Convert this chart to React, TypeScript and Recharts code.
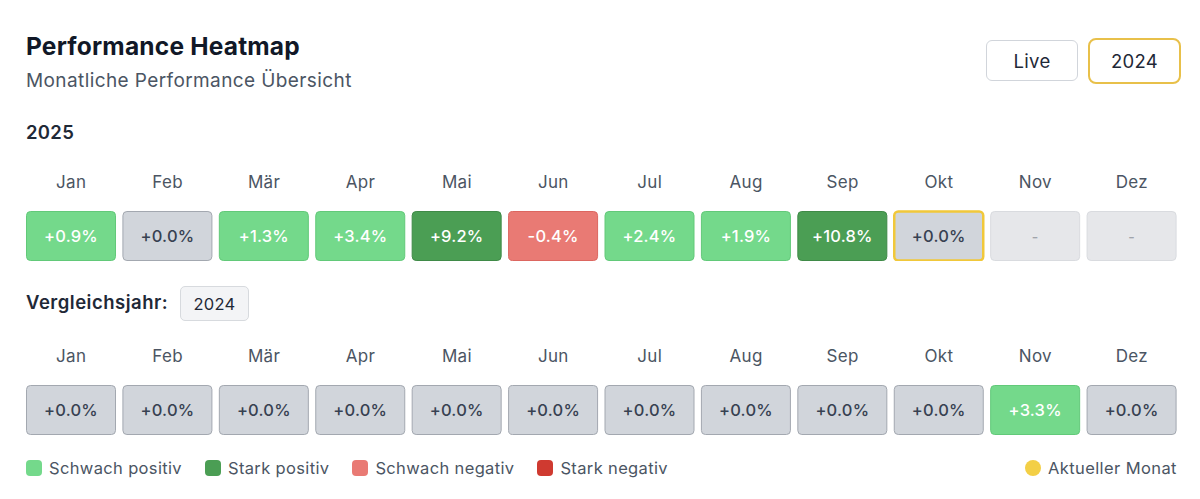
import { Bar, BarChart, XAxis, YAxis } from "recharts";

const months = ["Jan", "Feb", "Mär", "Apr", "Mai", "Jun", "Jul", "Aug", "Sep", "Okt", "Nov", "Dez"];
const perf2025: (number | null)[] = [0.9, 0.0, 1.3, 3.4, 9.2, -0.4, 2.4, 1.9, 10.8, 0.0, null, null];
const perf2024: (number | null)[] = [0.0, 0.0, 0.0, 0.0, 0.0, 0.0, 0.0, 0.0, 0.0, 0.0, 3.3, 0.0];
const currentMonth = "Okt";

const legendItems = [
  { label: "Schwach positiv", color: "#74d98b" },
  { label: "Stark positiv", color: "#4b9e54" },
  { label: "Schwach negativ", color: "#e97a74" },
  { label: "Stark negativ", color: "#cf3a30" },
];

const FONT = "Inter, 'Noto Sans', sans-serif";

function cellStyle(v: number | null) {
  if (v === null) return { fill: "#e6e7ea", stroke: "#d9dbdf", text: "#a0a4ab" };
  if (v >= 5) return { fill: "#4b9e54", stroke: "#3f8a47", text: "#ffffff" };
  if (v > 0) return { fill: "#74d98b", stroke: "#62c979", text: "#ffffff" };
  if (v <= -5) return { fill: "#cf3a30", stroke: "#b8322a", text: "#ffffff" };
  if (v < 0) return { fill: "#e97a74", stroke: "#dc6660", text: "#ffffff" };
  return { fill: "#d1d5db", stroke: "#a3a8b0", text: "#374151" };
}

function fmt(v: number | null) {
  if (v === null) return "-";
  return (v >= 0 ? "+" : "") + v.toFixed(1) + "%";
}

const CellShape = (props: any) => {
  const { x, y, width, height, payload } = props;
  const s = cellStyle(payload.value);
  const current = payload.month === currentMonth && payload.isCurrentYear;
  return (
    <g>
      <rect
        x={x + 0.5}
        y={y + 0.5}
        width={width - 1}
        height={height - 1}
        rx={4}
        fill={s.fill}
        stroke={current ? "#f1c83a" : s.stroke}
        strokeWidth={current ? 2.5 : 1}
      />
      <text
        x={x + width / 2}
        y={y + height / 2}
        textAnchor="middle"
        dominantBaseline="central"
        fill={s.text}
        fontSize={payload.value === null ? 14 : 16.5}
        fontWeight={500}
        fontFamily={FONT}
        letterSpacing={0.2}
      >
        {fmt(payload.value)}
      </text>
    </g>
  );
};

const MonthTick = (props: any) => {
  const { x, y, payload } = props;
  return (
    <text x={x} y={y - 23} textAnchor="middle" fill="#4b5563" fontSize={17} fontFamily={FONT} letterSpacing={0.3}>
      {payload.value}
    </text>
  );
};

function HeatRow({ values, isCurrentYear }: { values: (number | null)[]; isCurrentYear: boolean }) {
  const data = months.map((m, i) => ({ month: m, value: values[i], isCurrentYear, cell: 1 }));
  return (
    <BarChart width={1200} height={101} data={data} margin={{ top: 0, right: 20, bottom: 0, left: 23 }}>
      <XAxis
        dataKey="month"
        orientation="top"
        height={51}
        axisLine={false}
        tickLine={false}
        tickSize={0}
        tickMargin={0}
        interval={0}
        tick={<MonthTick />}
      />
      <YAxis hide domain={[0, 1]} />
      <Bar dataKey="cell" barSize={90} shape={<CellShape />} isAnimationActive={false} />
    </BarChart>
  );
}

export default function App() {
  return (
    <div
      style={{
        position: "absolute",
        left: 0,
        top: 0,
        width: 1200,
        height: 499,
        background: "#ffffff",
        fontFamily: FONT,
        overflow: "hidden",
      }}
    >
      <div
        style={{
          position: "absolute",
          left: 26,
          top: 31,
          fontSize: 24.5,
          fontWeight: 700,
          color: "#111827",
          letterSpacing: 0.2,
        }}
      >
        Performance Heatmap
      </div>
      <div
        style={{ position: "absolute", left: 26, top: 69, fontSize: 19, color: "#4b5563", letterSpacing: 0.4 }}
      >
        Monatliche Performance Übersicht
      </div>
      <div
        style={{
          position: "absolute",
          left: 986,
          top: 40,
          width: 92,
          height: 41,
          boxSizing: "border-box",
          border: "1px solid #d1d5db",
          borderRadius: 6,
          display: "flex",
          alignItems: "center",
          justifyContent: "center",
          fontSize: 18.5,
          color: "#1f2937",
          letterSpacing: 0.3,
        }}
      >
        Live
      </div>
      <div
        style={{
          position: "absolute",
          left: 1088,
          top: 38,
          width: 93,
          height: 46,
          boxSizing: "border-box",
          border: "2.5px solid #e8c04a",
          borderRadius: 8,
          display: "flex",
          alignItems: "center",
          justifyContent: "center",
          fontSize: 18.5,
          color: "#1f2937",
          letterSpacing: 0.3,
        }}
      >
        2024
      </div>
      <div
        style={{
          position: "absolute",
          left: 26,
          top: 121,
          fontSize: 18.5,
          fontWeight: 600,
          color: "#1f2937",
          letterSpacing: 0.3,
        }}
      >
        2025
      </div>
      <div style={{ position: "absolute", left: 0, top: 160 }}>
        <HeatRow values={perf2025} isCurrentYear={true} />
      </div>
      <div
        style={{
          position: "absolute",
          left: 26,
          top: 291,
          fontSize: 18.5,
          fontWeight: 600,
          color: "#1f2937",
          letterSpacing: 0.5,
        }}
      >
        Vergleichsjahr:
      </div>
      <div
        style={{
          position: "absolute",
          left: 180,
          top: 286,
          width: 69,
          height: 35,
          boxSizing: "border-box",
          border: "1px solid #d7dade",
          background: "#f3f4f6",
          borderRadius: 5,
          display: "flex",
          alignItems: "center",
          justifyContent: "center",
          fontSize: 16.5,
          color: "#1f2937",
          letterSpacing: 0.3,
        }}
      >
        2024
      </div>
      <div style={{ position: "absolute", left: 0, top: 334 }}>
        <HeatRow values={perf2024} isCurrentYear={false} />
      </div>
      <div
        style={{
          position: "absolute",
          left: 26,
          top: 458,
          display: "flex",
          alignItems: "center",
          gap: 23,
          fontSize: 16.5,
          color: "#4b5563",
          letterSpacing: 0.35,
        }}
      >
        {legendItems.map((it) => (
          <div key={it.label} style={{ display: "flex", alignItems: "center", gap: 7 }}>
            <span style={{ width: 16, height: 16, borderRadius: 4, background: it.color, display: "inline-block" }} />
            <span>{it.label}</span>
          </div>
        ))}
      </div>
      <div
        style={{
          position: "absolute",
          left: 1025,
          top: 458,
          display: "flex",
          alignItems: "center",
          gap: 7,
          fontSize: 16.5,
          color: "#4b5563",
          letterSpacing: 0.4,
        }}
      >
        <span style={{ width: 16, height: 16, borderRadius: 8, background: "#f3cf46", display: "inline-block" }} />
        <span>Aktueller Monat</span>
      </div>
    </div>
  );
}
